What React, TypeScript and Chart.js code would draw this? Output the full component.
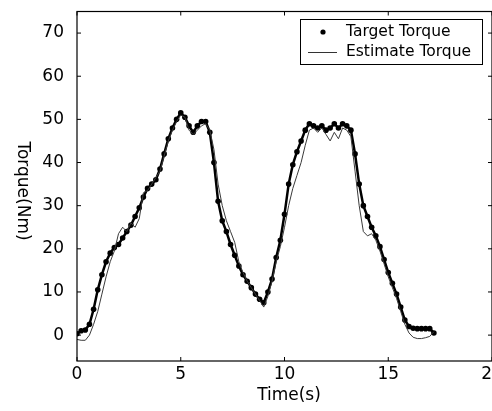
import { useEffect, useRef } from 'react';
import { Chart, registerables } from 'chart.js';
Chart.register(...registerables);

const FONT = '"DejaVu Sans"';

const timeS = [
  0, 0.2, 0.4, 0.6, 0.8, 1, 1.2, 1.4, 1.6, 1.8, 2, 2.2, 2.4, 2.6, 2.8, 3, 3.2, 3.4, 3.6, 3.8,
  4, 4.2, 4.4, 4.6, 4.8, 5, 5.2, 5.4, 5.6, 5.8, 6, 6.2, 6.4, 6.6, 6.8, 7, 7.2, 7.4, 7.6, 7.8,
  8, 8.2, 8.4, 8.6, 8.8, 9, 9.2, 9.4, 9.6, 9.8, 10, 10.2, 10.4, 10.6, 10.8, 11, 11.2, 11.4, 11.6, 11.8,
  12, 12.2, 12.4, 12.6, 12.8, 13, 13.2, 13.4, 13.6, 13.8, 14, 14.2, 14.4, 14.6, 14.8, 15, 15.2, 15.4, 15.6, 15.8,
  16, 16.2, 16.4, 16.6, 16.8, 17, 17.2,
];

const targetTorque = [
  0.3, 1.0, 1.2, 2.5, 6.0, 10.5, 14.0, 17.0, 19.0, 20.3, 21.0, 22.5, 24.0, 25.5, 27.5, 29.5, 32.0, 34.0, 35.0, 36.0,
  38.5, 42.0, 45.5, 48.0, 50.0, 51.5, 50.5, 48.5, 47.0, 48.5, 49.5, 49.5, 47.0, 40.0, 31.0, 26.5, 24.0, 21.0, 18.5, 16.0,
  14.0, 12.5, 11.0, 9.5, 8.3, 7.5, 10.0, 13.0, 18.0, 22.0, 28.0, 35.0, 39.5, 42.5, 45.0, 47.5, 49.0, 48.5, 48.0, 48.5,
  47.5, 48.0, 49.0, 48.0, 49.0, 48.5, 47.5, 42.0, 35.0, 30.0, 27.5, 25.0, 23.0, 20.5, 17.5, 14.5, 12.0, 9.5, 6.5, 3.5,
  2.0, 1.6, 1.5, 1.5, 1.5, 1.5, 0.5,
];

const estimateTorque = [
  -1.0, -1.2, -1.2, 0.0, 2.5, 5.5, 9.5, 13.5, 17.0, 19.5, 23.5, 25.0, 24.0, 26.0, 25.0, 27.0, 33.0, 33.5, 35.0, 36.5,
  38.0, 41.5, 45.0, 47.5, 49.5, 51.0, 50.5, 47.5, 46.5, 47.5, 48.5, 49.0, 47.5, 43.0, 35.0, 30.0, 26.5, 24.0, 21.5, 17.0,
  14.5, 12.5, 11.0, 9.5, 8.0, 6.5, 9.0, 12.5, 17.0, 20.5, 25.0, 30.0, 34.0, 37.0, 40.0, 44.0, 47.5, 48.0, 47.0, 48.0,
  46.5, 45.0, 47.0, 45.5, 48.0, 47.5, 46.0, 38.0, 30.0, 24.0, 23.0, 23.5, 22.0, 19.5, 16.5, 13.5, 11.0, 8.5, 5.5, 2.5,
  0.5, -0.5, -0.8, -0.8, -0.6, -0.3, 0.8,
];

const xTicks = [0, 5, 10, 15, 20];
const yTicks = [0, 10, 20, 30, 40, 50, 60, 70];
const legendLabels = ['Target Torque', 'Estimate Torque'];
const xTitle = 'Time(s)';
const yTitle = 'Torque(Nm)';

const W = 496;
const H = 411;
const LEFT = 77;
const RIGHT = 493;
const TOP = 11.5;
const BOTTOM = 361;

const framePlugin = {
  id: 'frame',
  afterDraw(chart: any) {
    const ctx = chart.ctx as CanvasRenderingContext2D;
    const a = chart.chartArea;
    const xs = chart.scales.x;
    const ys = chart.scales.y;
    ctx.save();
    ctx.strokeStyle = '#000';
    ctx.lineWidth = 1.2;
    ctx.strokeRect(a.left, a.top, a.right - a.left, a.bottom - a.top);
    ctx.lineWidth = 1;
    const tl = 4;
    xTicks.forEach((v) => {
      const px = xs.getPixelForValue(v);
      ctx.beginPath();
      ctx.moveTo(px, a.bottom);
      ctx.lineTo(px, a.bottom - tl);
      ctx.moveTo(px, a.top);
      ctx.lineTo(px, a.top + tl);
      ctx.stroke();
    });
    yTicks.forEach((v) => {
      const py = ys.getPixelForValue(v);
      ctx.beginPath();
      ctx.moveTo(a.left, py);
      ctx.lineTo(a.left + tl, py);
      ctx.moveTo(a.right, py);
      ctx.lineTo(a.right - tl, py);
      ctx.stroke();
    });

    // legend
    const bx = 300, by = 19, bw = 182, bh = 45;
    ctx.fillStyle = '#fff';
    ctx.fillRect(bx, by, bw, bh);
    ctx.lineWidth = 1;
    ctx.strokeRect(bx + 0.5, by + 0.5, bw, bh);
    ctx.fillStyle = '#000';
    ctx.beginPath();
    ctx.arc(323, 32, 2.6, 0, Math.PI * 2);
    ctx.fill();
    ctx.strokeStyle = '#333';
    ctx.beginPath();
    ctx.moveTo(308, 52.5);
    ctx.lineTo(337, 52.5);
    ctx.stroke();
    ctx.font = `15.5px ${FONT}`;
    ctx.textBaseline = 'middle';
    ctx.textAlign = 'left';
    ctx.fillText(legendLabels[0], 346, 32);
    ctx.fillText(legendLabels[1], 346, 52);

    // titles
    ctx.font = `17px ${FONT}`;
    ctx.textAlign = 'center';
    ctx.fillText(xTitle, 289, 396);
    ctx.translate(22, 191);
    ctx.rotate(Math.PI / 2);
    ctx.fillText(yTitle, 0, 0);
    ctx.restore();
  },
};

export default function App() {
  const ref = useRef<HTMLCanvasElement>(null);
  useEffect(() => {
    if (!ref.current) return;
    const chart = new Chart(ref.current, {
      type: 'line',
      data: {
        datasets: [
          {
            label: legendLabels[0],
            data: timeS.map((t, i) => ({ x: t, y: targetTorque[i] })),
            borderColor: '#000',
            backgroundColor: '#000',
            borderWidth: 2.5,
            pointRadius: 2.8,
            pointBorderWidth: 0,
            pointBackgroundColor: '#000',
            showLine: true,
            order: 2,
          },
          {
            label: legendLabels[1],
            data: timeS.map((t, i) => ({ x: t, y: estimateTorque[i] })),
            borderColor: '#3a3a3a',
            borderWidth: 1,
            pointRadius: 0,
            showLine: true,
            order: 1,
          },
        ],
      },
      options: {
        responsive: false,
        animation: false,
        layout: { padding: { left: 0, top: TOP, right: W - RIGHT, bottom: 0 } },
        plugins: { legend: { display: false }, tooltip: { enabled: false } },
        scales: {
          x: {
            type: 'linear',
            min: 0,
            max: 20,
            grid: { display: false, drawTicks: false },
            border: { display: false },
            afterBuildTicks: (s: any) => {
              s.ticks = xTicks.map((v) => ({ value: v }));
            },
            afterFit: (s: any) => {
              s.height = H - BOTTOM;
              s.paddingLeft = 0;
              s.paddingRight = 0;
            },
            ticks: {
              padding: 3,
              color: '#000',
              font: { family: FONT, size: 17 },
              maxRotation: 0,
              autoSkip: false,
            },
          },
          y: {
            type: 'linear',
            min: -6,
            max: 75,
            grid: { display: false, drawTicks: false },
            border: { display: false },
            afterBuildTicks: (s: any) => {
              s.ticks = yTicks.map((v) => ({ value: v }));
            },
            afterFit: (s: any) => {
              s.width = LEFT;
              s.paddingTop = 0;
              s.paddingBottom = 0;
            },
            ticks: {
              padding: 13,
              color: '#000',
              font: { family: FONT, size: 17 },
              autoSkip: false,
            },
          },
        },
      },
      plugins: [framePlugin],
    });
    return () => chart.destroy();
  }, []);
  return (
    <div style={{ position: 'fixed', left: 0, top: 0, width: 492, height: 411, overflow: 'hidden', background: '#fff' }}>
      <canvas ref={ref} width={W} height={H} style={{ display: 'block' }} />
    </div>
  );
}
